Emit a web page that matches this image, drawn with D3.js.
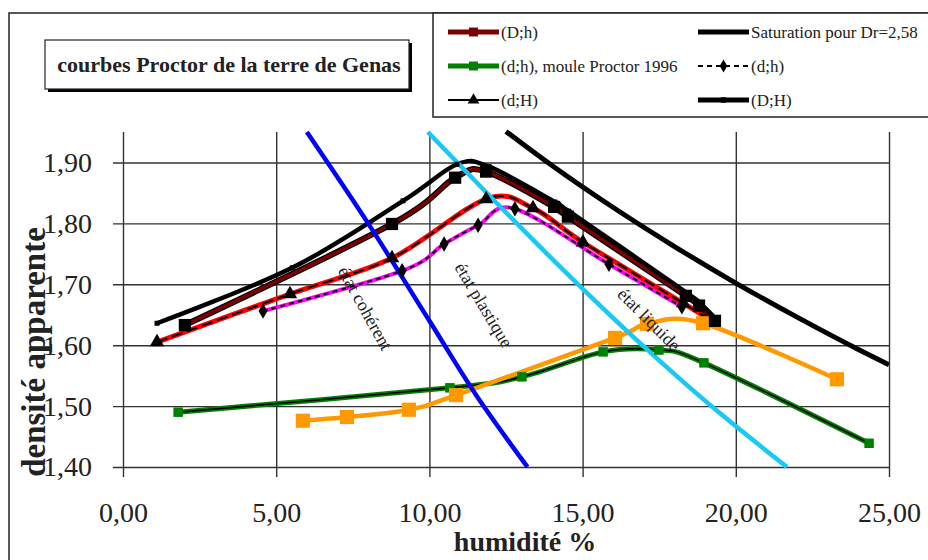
<!DOCTYPE html>
<html lang="fr">
<head>
<meta charset="UTF-8">
<script src="https://d3js.org/d3.v7.min.js"></script>
<style>
  body { margin: 0; background: #fff; }
  svg text { font-family: "Liberation Serif", "Times New Roman", serif; }
  .tick line { stroke: #333; stroke-width: 1.4; }
  .tick text { font-size: 28px; fill: #222; }
  .lg { font-size: 17px; fill: #222; }
  .zone { font-size: 18px; fill: #222; }
</style>
</head>
<body>
<svg id="chart" width="928" height="560"></svg>
<script>
// ticks
const xTicks = [0, 5, 10, 15, 20, 25];
const yTicks = [1.40, 1.50, 1.60, 1.70, 1.80, 1.90];

// (D;h)
const hDh = [2.02, 8.78, 10.84, 11.85, 14.07, 14.52, 18.37, 18.80, 19.32];
const dDh = [1.633, 1.799, 1.875, 1.885, 1.827, 1.811, 1.681, 1.665, 1.640];
// (D;H)
const hDH = [1.11, 5.52, 9.14, 10.9, 11.95, 14.1, 14.55, 18.4, 18.85, 19.35];
const dDH = [1.636, 1.727, 1.837, 1.897, 1.893, 1.835, 1.820, 1.686, 1.668, 1.643];
// (d;H)
const hdH = [1.11, 5.45, 8.78, 11.85, 13.38, 15.01, 18.28, 19.2];
const ddH = [1.605, 1.684, 1.743, 1.840, 1.825, 1.769, 1.669, 1.640];
// (d;h)
const hdh = [4.57, 9.11, 10.48, 11.59, 12.79, 15.86, 18.24];
const ddh = [1.656, 1.722, 1.766, 1.797, 1.824, 1.733, 1.663];
// (d;h), moule Proctor 1996
const hMoule = [1.8, 10.67, 13.02, 15.67, 17.49, 18.96, 24.35];
const dMoule = [1.490, 1.530, 1.548, 1.589, 1.592, 1.571, 1.439];
// série orange
const hOrange = [5.87, 7.31, 9.33, 10.87, 16.06, 17.1, 18.93, 23.3];
const dOrange = [1.476, 1.482, 1.494, 1.518, 1.612, 1.635, 1.636, 1.544];
// Saturation pour Dr=2,58
const hSat = [12.5, 14, 16, 18, 20, 22, 24, 25];
const dSat = [1.951, 1.895, 1.826, 1.762, 1.702, 1.646, 1.593, 1.568];
// limites d'état
const hBleu = [6.0, 8.0, 10.0, 11.5, 13.2];
const dBleu = [1.95, 1.80, 1.64, 1.52, 1.40];
const hCyan = [9.95, 14.85, 16.95, 19.2, 21.67];
const dCyan = [1.95, 1.70, 1.60, 1.50, 1.40];

const serif = '"Liberation Serif", "Times New Roman", serif';
const svg = d3.select("#chart");
const x = d3.scaleLinear().domain([0, 25]).range([123, 889]);
const y = d3.scaleLinear().domain([1.40, 1.95]).range([467, 132]);
const fmt = v => d3.format(".2f")(v).replace(".", ",");

// cadre
svg.append("rect").attr("x", 9).attr("y", 13).attr("width", 940).attr("height", 560)
  .attr("fill", "none").attr("stroke", "#222").attr("stroke-width", 1.5);

// axes + grille
const gx = svg.append("g").attr("transform", "translate(0,467)")
  .call(d3.axisBottom(x).tickValues(xTicks).tickFormat(fmt)
    .tickSizeInner(-(467 - 132)).tickSizeOuter(0).tickPadding(35))
  .attr("font-family", serif).attr("font-size", 28);
gx.select(".domain").remove();
gx.selectAll(".tick line").attr("y1", 10);

const gy = svg.append("g").attr("transform", "translate(123,0)")
  .call(d3.axisLeft(y).tickValues(yTicks).tickFormat(fmt)
    .tickSizeInner(-(889 - 123)).tickSizeOuter(0).tickPadding(31))
  .attr("font-family", serif).attr("font-size", 28);
gy.select(".domain").remove();
gy.selectAll(".tick line").attr("x1", -10);

svg.append("text").attr("x", 525).attr("y", 551).attr("text-anchor", "middle")
  .attr("font-size", 28).attr("font-weight", "bold").attr("fill", "#222").text("humidité %");
svg.append("text").attr("transform", "translate(45,352) rotate(-90)").attr("text-anchor", "middle")
  .attr("font-size", 33).attr("font-weight", "bold").attr("fill", "#222").text("densité apparente");

const plot = svg.append("g");
plot.append("clipPath").attr("id", "clip").append("rect")
  .attr("x", 123).attr("y", 128).attr("width", 766).attr("height", 340);

const curve = d3.curveCardinal.tension(0);
const line = (hs, ds, c) => d3.line().x((d, i) => x(hs[i])).y((d, i) => y(ds[i])).curve(c || curve)(hs);

function path(hs, ds, color, w, dash, c) {
  return plot.append("path").attr("d", line(hs, ds, c)).attr("fill", "none")
    .attr("stroke", color).attr("stroke-width", w)
    .attr("stroke-dasharray", dash || null).attr("stroke-linejoin", "round");
}

// saturation
path(hSat, dSat, "#000", 5, null, d3.curveMonotoneX).attr("clip-path", "url(#clip)");

// courbes
path(hMoule, dMoule, "#008000", 5);
path(hMoule, dMoule, "#000", 1.5);
path(hOrange, dOrange, "#ff9900", 4.5);
path(hdh, ddh, "#ff00ff", 4);
path(hdh, ddh, "#000", 2, "5,4");
path(hdH, ddH, "#ff0000", 5);
path(hdH, ddH, "#000", 2, "11,5");
path(hDh, dDh, "#000", 6);
path(hDh, dDh, "#7b0000", 3.5);
path(hDH, dDH, "#000", 4.5);

// limites
path(hBleu, dBleu, "#0000ff", 4.5, null, d3.curveMonotoneY).attr("clip-path", "url(#clip)");
path(hCyan, dCyan, "#19c8f5", 4.5, null, d3.curveMonotoneY).attr("clip-path", "url(#clip)");

// marqueurs
const sym = (type, size) => d3.symbol().type(type).size(size)();
function marks(hs, ds, type, size, color) {
  plot.append("g").selectAll("path").data(hs).enter().append("path")
    .attr("transform", (d, i) => `translate(${x(hs[i])},${y(ds[i])})`)
    .attr("d", sym(type, size)).attr("fill", color);
}
marks(hMoule, dMoule, d3.symbolSquare, 90, "#008000");
marks(hOrange, dOrange, d3.symbolSquare, 200, "#ff9900");
marks(hdh, ddh, d3.symbolDiamond, 70, "#000");
marks(hdH.slice(0, 7), ddH.slice(0, 7), d3.symbolTriangle, 90, "#000");
marks(hDH, dDH, d3.symbolSquare, 25, "#000");
marks(hDh, dDh, d3.symbolSquare, 150, "#000");

// zones
const zones = [
  { t: "état cohérent", h: 7.0, d: 1.722, a: 61 },
  { t: "état plastique", h: 10.8, d: 1.728, a: 59 },
  { t: "état liquide", h: 16.1, d: 1.682, a: 45 }
];
plot.selectAll(".zone").data(zones).enter().append("text").attr("class", "zone")
  .attr("transform", d => `translate(${x(d.h)},${y(d.d)}) rotate(${d.a})`).text(d => d.t);

// titre
svg.append("rect").attr("x", 48).attr("y", 43).attr("width", 364).attr("height", 49).attr("fill", "#000");
svg.append("rect").attr("x", 45).attr("y", 40).attr("width", 364).attr("height", 49)
  .attr("fill", "#fff").attr("stroke", "#222").attr("stroke-width", 1.2);
svg.append("text").attr("x", 229).attr("y", 72).attr("text-anchor", "middle")
  .attr("font-size", 22).attr("font-weight", "bold").attr("fill", "#222")
  .text("courbes Proctor de la terre de Genas");

// légende
svg.append("rect").attr("x", 433).attr("y", 13).attr("width", 520).attr("height", 104)
  .attr("fill", "#fff").attr("stroke", "#222").attr("stroke-width", 1.5);
const legend = [
  { t: "(D;h)", c: "#7b0000", w: 5, m: d3.symbolSquare, ms: 80, mc: "#7b0000", col: 0, row: 0 },
  { t: "(d;h), moule Proctor 1996", c: "#008000", w: 5, m: d3.symbolSquare, ms: 80, mc: "#008000", col: 0, row: 1 },
  { t: "(d;H)", c: "#000", w: 2, m: d3.symbolTriangle, ms: 60, mc: "#000", col: 0, row: 2 },
  { t: "Saturation pour Dr=2,58", c: "#000", w: 5, col: 1, row: 0 },
  { t: "(d;h)", c: "#000", w: 2, dash: "5,4", m: d3.symbolDiamond, ms: 50, mc: "#000", col: 1, row: 1 },
  { t: "(D;H)", c: "#000", w: 5, m: d3.symbolSquare, ms: 30, mc: "#000", col: 1, row: 2 }
];
const lx = [448, 698], ly = [32, 66, 100];
const lg = svg.selectAll(".lgi").data(legend).enter().append("g")
  .attr("transform", d => `translate(${lx[d.col]},${ly[d.row]})`);
lg.append("line").attr("x1", 0).attr("x2", 51)
  .attr("stroke", d => d.c).attr("stroke-width", d => d.w).attr("stroke-dasharray", d => d.dash || null);
lg.filter(d => d.m).append("path").attr("transform", "translate(25.5,0)")
  .attr("d", d => sym(d.m, d.ms)).attr("fill", d => d.mc);
lg.append("text").attr("class", "lg").attr("x", 53).attr("dy", "0.33em")
  .style("font-family", serif).text(d => d.t);
</script>
</body>
</html>
